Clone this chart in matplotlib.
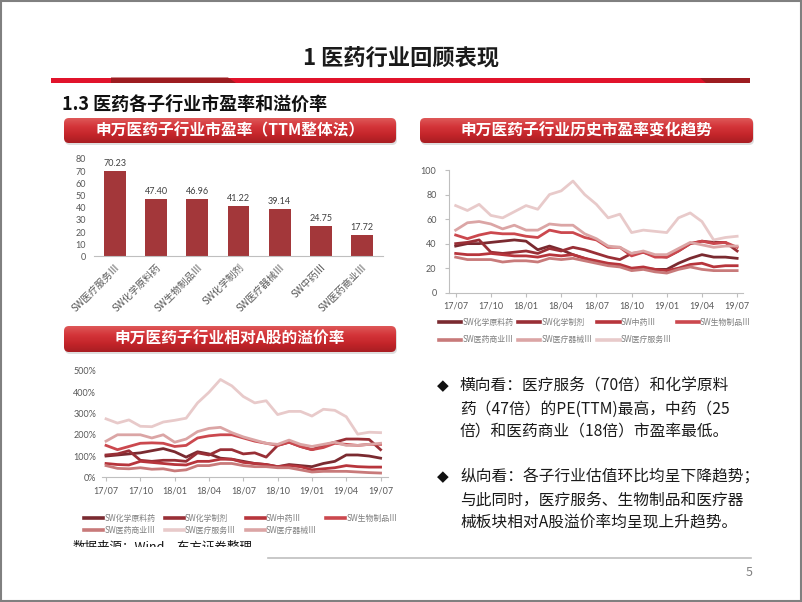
import numpy as np
import matplotlib
matplotlib.use('Agg')
import matplotlib.pyplot as plt
from matplotlib.patches import FancyBboxPatch, Rectangle, Polygon
from matplotlib.colors import LinearSegmentedColormap
from matplotlib.ticker import FuncFormatter

plt.rcParams['font.family'] = ['Noto Sans CJK SC', 'DejaVu Sans']

# ---------------- data ----------------
bar_categories = ['SW医疗服务Ⅲ', 'SW化学原料药', 'SW生物制品Ⅲ', 'SW化学制剂',
                  'SW医疗器械Ⅲ', 'SW中药Ⅲ', 'SW医药商业Ⅲ']
bar_values = [70.23, 47.40, 46.96, 41.22, 39.14, 24.75, 17.72]

months = ['17/07', '17/08', '17/09', '17/10', '17/11', '17/12', '18/01', '18/02', '18/03',
          '18/04', '18/05', '18/06', '18/07', '18/08', '18/09', '18/10', '18/11', '18/12',
          '19/01', '19/02', '19/03', '19/04', '19/05', '19/06', '19/07']

series_names = ['SW化学原料药', 'SW化学制剂', 'SW中药Ⅲ', 'SW生物制品Ⅲ',
                'SW医药商业Ⅲ', 'SW医疗器械Ⅲ', 'SW医疗服务Ⅲ']

# historical PE
pe_hxyl = [38, 40, 40, 41, 42, 43, 42, 35, 38, 35, 31, 28, 25, 23, 22, 19, 20, 19, 19, 24, 28, 31, 29, 29, 28]
pe_hxzj = [40, 41, 43, 33, 32, 33, 34, 32, 36, 34, 37, 35, 32, 29, 27, 32, 33, 30, 29, 34, 40, 42, 41, 41, 34]
pe_zy = [32, 31, 31, 32, 31, 30, 30, 29, 31, 30, 31, 28, 26, 24, 23, 20, 21, 19, 18, 20, 23, 24, 21, 22, 22]
pe_swzp = [47, 44, 47, 49, 48, 48, 46, 45, 51, 49, 49, 45, 43, 37, 37, 30, 33, 29, 29, 34, 40, 42, 40, 41, 37]
pe_yysy = [29, 27, 27, 27, 25, 26, 26, 25, 28, 27, 28, 26, 24, 22, 21, 18, 19, 17, 16, 19, 21, 19, 18, 18, 18]
pe_ylqx = [51, 57, 58, 56, 52, 55, 51, 51, 56, 55, 55, 48, 44, 38, 37, 32, 34, 31, 31, 36, 41, 39, 37, 38, 38]
pe_ylfw = [71, 67, 72, 63, 61, 66, 71, 68, 80, 83, 91, 80, 72, 61, 64, 49, 51, 50, 49, 61, 65, 58, 43, 45, 46]

# premium vs A shares (%)
pr_hxyl = [100, 105, 110, 115, 125, 135, 120, 95, 120, 110, 90, 85, 75, 65, 60, 50, 60, 55, 50, 65, 75, 105, 105, 100, 90]
pr_hxzj = [105, 110, 125, 80, 75, 80, 80, 75, 115, 105, 130, 130, 110, 115, 95, 150, 165, 145, 130, 150, 165, 180, 180, 178, 130]
pr_zy = [65, 60, 58, 75, 70, 65, 60, 58, 75, 75, 85, 85, 70, 65, 60, 50, 55, 50, 35, 40, 45, 55, 50, 48, 48]
pr_swzp = [150, 130, 145, 160, 162, 160, 145, 150, 185, 195, 200, 200, 185, 170, 160, 150, 165, 145, 130, 140, 160, 155, 150, 155, 155]
pr_yysy = [55, 42, 40, 45, 38, 40, 30, 35, 55, 55, 65, 65, 55, 50, 50, 45, 45, 35, 25, 28, 28, 28, 25, 22, 20]
pr_ylfw = [275, 255, 270, 240, 238, 260, 268, 278, 350, 400, 460, 430, 380, 350, 360, 295, 310, 310, 288, 320, 315, 285, 203, 212, 210]
pr_ylqx = [170, 200, 200, 200, 185, 200, 165, 180, 215, 230, 235, 210, 190, 175, 160, 155, 175, 155, 145, 155, 165, 150, 150, 155, 160]

bullet1 = ['横向看：医疗服务（70倍）和化学原料', '药（47倍）的PE(TTM)最高，中药（25', '倍）和医药商业（18倍）市盈率最低。']
bullet2 = ['纵向看：各子行业估值环比均呈下降趋势；', '与此同时，医疗服务、生物制品和医疗器', '械板块相对A股溢价率均呈现上升趋势。']

# ---------------- style ----------------
col = {'SW化学原料药': '#7A2A30', 'SW化学制剂': '#992F36', 'SW中药Ⅲ': '#B7353C',
       'SW生物制品Ⅲ': '#CB484E', 'SW医药商业Ⅲ': '#C87A7A', 'SW医疗器械Ⅲ': '#DBA5A5',
       'SW医疗服务Ⅲ': '#E8CACA'}
tick_c = '#595959'
axis_c = '#BFBFBF'

W, H = 802, 602
fig = plt.figure(figsize=(W / 100, H / 100), dpi=100)


def px_axes(l, t, r, b):
    return fig.add_axes([l / W, 1 - b / H, (r - l) / W, (b - t) / H])


bg = fig.add_axes([0, 0, 1, 1])
bg.set_xlim(0, W)
bg.set_ylim(H, 0)
bg.axis('off')

# border
bg.add_patch(Rectangle((0.5, 0.5), W - 1.5, H - 1.5, fill=False, ec='#808080', lw=1.5))

# title
bg.text(401, 58, '1 医药行业回顾表现', ha='center', va='center', fontsize=16,
        fontweight='bold', color='#1a1a1a')
bg.add_patch(Rectangle((51, 77.5), 699, 5.5, color='#E1132B', lw=0))
bg.add_patch(Polygon([(111, 77.5), (228, 77.5), (236, 83), (111, 83)], closed=True, color='#9D1C20', lw=0))
bg.add_patch(Polygon([(700, 77.5), (750, 77.5), (750, 83), (706, 83)], closed=True, color='#9D1C20', lw=0))
bg.text(62, 104, '1.3 医药各子行业市盈率和溢价率', ha='left', va='center', fontsize=13,
        fontweight='bold', color='#111111')

cmap = LinearSegmentedColormap.from_list('bn', ['#A81D22', '#C4252A', '#D4353A', '#DE5858'])


def banner(l, t, r, b, text):
    sh = FancyBboxPatch((l + 1, t + 2), r - l, b - t, boxstyle='round,pad=0,rounding_size=5',
                        fc='#C8C8C8', ec='none', alpha=0.6)
    bg.add_patch(sh)
    grad = np.linspace(0, 1, 100).reshape(-1, 1)
    im = bg.imshow(grad, extent=[l, r, b, t], origin='lower', cmap=cmap, aspect='auto',
                   interpolation='bilinear', zorder=2)
    clip = FancyBboxPatch((l, t), r - l, b - t, boxstyle='round,pad=0,rounding_size=5',
                          fc='none', ec='none', transform=bg.transData)
    bg.add_patch(clip)
    im.set_clip_path(clip)
    bg.text((l + r) / 2, (t + b) / 2, text, ha='center', va='center', color='white',
            fontsize=11.3, fontweight='bold', zorder=3)


banner(64, 118, 396, 143, '申万医药子行业市盈率（TTM整体法）')
banner(420, 118, 753, 143, '申万医药子行业历史市盈率变化趋势')
banner(64, 326, 396, 352, '申万医药子行业相对A股的溢价率')
bg.set_xlim(0, W)
bg.set_ylim(H, 0)

# ---------------- bar chart ----------------
axb = px_axes(94.4, 159, 382.6, 256.5)
xb = np.arange(len(bar_values))
axb.bar(xb, bar_values, width=0.53, color='#A3373A')
for x, v in zip(xb, bar_values):
    axb.text(x, v + 2.5, f'{v:.2f}', ha='center', va='bottom', fontsize=6.5, color='#404040',
             family=['Lato', 'DejaVu Sans'])
axb.set_xlim(-0.5, 6.5)
axb.set_ylim(0, 80)
axb.set_yticks(range(0, 81, 10))
axb.tick_params(axis='y', length=0, labelsize=6.5, labelcolor=tick_c, pad=6)
for lb in axb.get_yticklabels():
    lb.set_family(['Lato', 'DejaVu Sans'])
axb.set_xticks(xb)
axb.set_xticklabels(bar_categories, rotation=45, ha='right', rotation_mode='anchor',
                    fontsize=7, color=tick_c)
axb.tick_params(axis='x', length=0, pad=4)
for s in ['top', 'right', 'left']:
    axb.spines[s].set_visible(False)
axb.spines['bottom'].set_color(axis_c)
axb.patch.set_alpha(0)

# ---------------- PE history line chart ----------------
pe_data = [pe_hxyl, pe_hxzj, pe_zy, pe_swzp, pe_yysy, pe_ylqx, pe_ylfw]
ax1 = px_axes(449, 170, 743, 292.7)
xi = np.arange(len(months))
h1 = {}
for name, vals in zip(series_names, pe_data):
    h1[name], = ax1.plot(xi, vals, color=col[name], lw=2.0, label=name, solid_joinstyle='round')
ax1.set_xlim(-0.57, 24.5)
ax1.set_ylim(0, 100)
ax1.set_yticks(range(0, 101, 20))
ax1.set_xticks(xi[::3])
ax1.set_xticklabels(months[::3])
ax1.tick_params(labelsize=6.5, labelcolor=tick_c, color=axis_c, length=3)
ax1.tick_params(axis='y', pad=6)
for lb in ax1.get_xticklabels() + ax1.get_yticklabels():
    lb.set_family(['Lato', 'DejaVu Sans'])
for s in ['top', 'right']:
    ax1.spines[s].set_visible(False)
ax1.spines['left'].set_color(axis_c)
ax1.spines['bottom'].set_color(axis_c)
ax1.patch.set_alpha(0)

order1 = ['SW化学原料药', 'SW医药商业Ⅲ', 'SW化学制剂', 'SW医疗器械Ⅲ', 'SW中药Ⅲ', 'SW医疗服务Ⅲ', 'SW生物制品Ⅲ']
leg1 = ax1.legend([h1[n] for n in order1], order1, ncol=4, loc='upper left',
                  bbox_to_anchor=(439 / W, 1 - 318 / H), bbox_transform=fig.transFigure,
                  frameon=False, fontsize=5.7, handlelength=2.8, handletextpad=0.15,
                  columnspacing=0.6, labelspacing=1.05, borderpad=0, borderaxespad=0)
for t in leg1.get_texts():
    t.set_color('#7F7F7F')
for l in leg1.get_lines():
    l.set_linewidth(2.6)

# ---------------- premium line chart ----------------
pr_data = [pr_hxyl, pr_hxzj, pr_zy, pr_swzp, pr_yysy, pr_ylqx, pr_ylfw]
ax2 = px_axes(101.7, 371, 388, 477.3)
h2 = {}
for name, vals in zip(series_names, pr_data):
    h2[name], = ax2.plot(xi, vals, color=col[name], lw=2.0, label=name, solid_joinstyle='round')
ax2.set_xlim(-0.38, 24.65)
ax2.set_ylim(0, 500)
ax2.set_yticks(range(0, 501, 100))
ax2.yaxis.set_major_formatter(FuncFormatter(lambda v, p: f'{int(v)}%'))
ax2.set_xticks(xi[::3])
ax2.set_xticklabels(months[::3])
ax2.tick_params(labelsize=6.5, labelcolor=tick_c, color=axis_c, length=3)
ax2.tick_params(axis='y', length=0, pad=4)
for lb in ax2.get_xticklabels() + ax2.get_yticklabels():
    lb.set_family(['Lato', 'DejaVu Sans'])
for s in ['top', 'right', 'left']:
    ax2.spines[s].set_visible(False)
ax2.spines['bottom'].set_color(axis_c)
ax2.patch.set_alpha(0)

order2 = ['SW化学原料药', 'SW医药商业Ⅲ', 'SW化学制剂', 'SW医疗服务Ⅲ', 'SW中药Ⅲ', 'SW医疗器械Ⅲ', 'SW生物制品Ⅲ']
leg2 = ax2.legend([h2[n] for n in order2], order2, ncol=4, loc='upper left',
                  bbox_to_anchor=(84 / W, 1 - 513.5 / H), bbox_transform=fig.transFigure,
                  frameon=False, fontsize=5.7, handlelength=2.4, handletextpad=0.15,
                  columnspacing=1.2, labelspacing=0.45, borderpad=0, borderaxespad=0)
for t in leg2.get_texts():
    t.set_color('#7F7F7F')
for l in leg2.get_lines():
    l.set_linewidth(2.6)

# ---------------- bullet text ----------------
for y0, lines in [(386, bullet1), (477, bullet2)]:
    bg.text(443, y0, '◆', ha='center', va='center', fontsize=11, color='#111111',
            family=['DejaVu Sans'])
    for i, ln in enumerate(lines):
        bg.text(460, y0 + i * 23, ln, ha='left', va='center', fontsize=11.3, color='#1a1a1a')

# source (partially hidden)
bg.text(73, 540.5, '数据来源：Wind，东方证券整理', ha='left', va='top', fontsize=9,
        color='#111111', zorder=3)
bg.add_patch(Rectangle((60, 547), 210, 10, fc='white', ec='none', zorder=4))

# footer line and page number
bg.plot([268, 751], [558, 558], color='#BFBFBF', lw=1.2)
bg.text(749, 573, '5', ha='center', va='center', fontsize=9, color='#808080')

fig.savefig('out.png', dpi=100)
